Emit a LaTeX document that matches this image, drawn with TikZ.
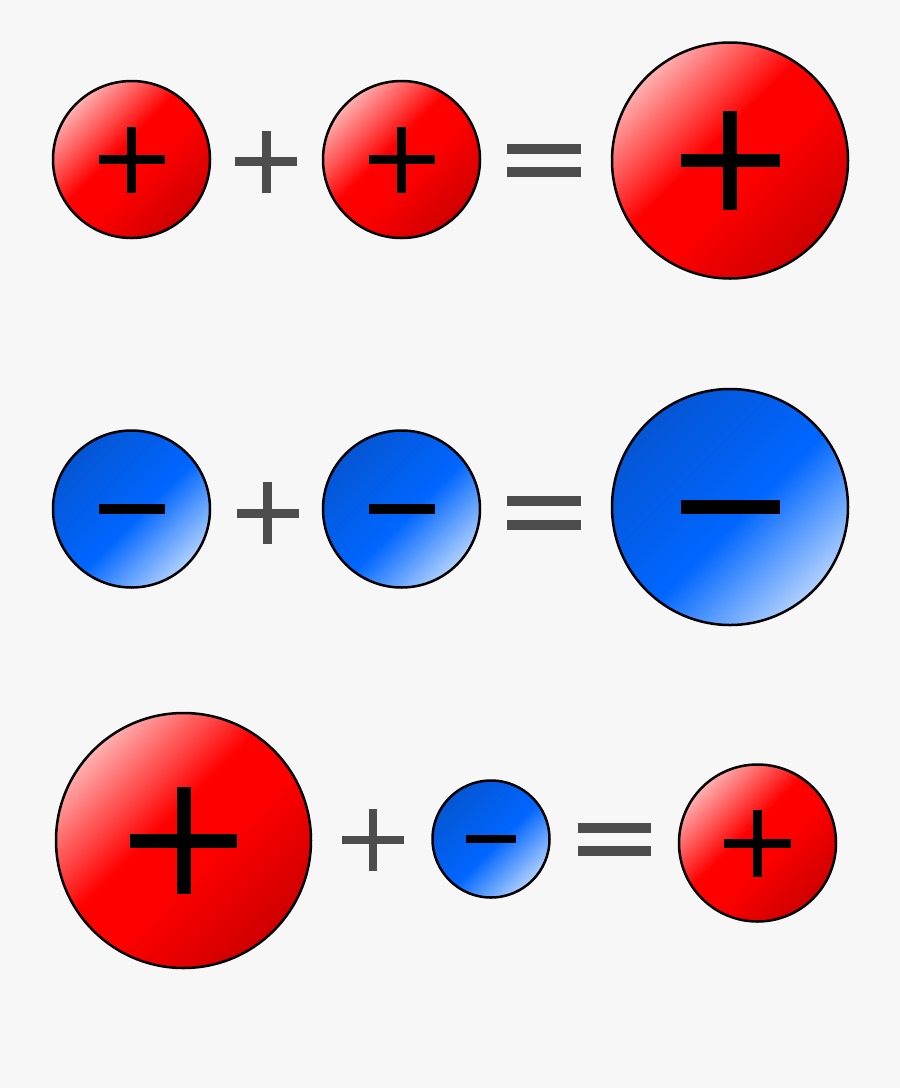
\documentclass[tikz,border=0pt]{standalone}
\usetikzlibrary{shadings,calc}
\definecolor{bgc}{HTML}{F7F7F7}
\definecolor{opgray}{HTML}{4D4D4D}
\definecolor{pinkc}{HTML}{FFB0B0}
\definecolor{redc}{HTML}{FF0000}
\definecolor{darkredc}{HTML}{CF0000}
\definecolor{lightbluec}{HTML}{B0D0FF}
\definecolor{bluec}{HTML}{0066FF}
\definecolor{darkbluec}{HTML}{0556D4}
\pgfdeclareverticalshading{redsh}{100bp}{color(0bp)=(darkredc); color(25bp)=(darkredc); color(45bp)=(redc); color(55bp)=(redc); color(75bp)=(pinkc); color(100bp)=(pinkc)}
\pgfdeclareverticalshading{bluesh}{100bp}{color(0bp)=(lightbluec); color(25bp)=(lightbluec); color(47bp)=(bluec); color(75bp)=(darkbluec); color(100bp)=(darkbluec)}
\tikzset{
  ball/.style={circle, draw=black, line width=2.5pt, inner sep=0pt, shade, shading angle=45},
  redball/.style={ball, shading=redsh},
  blueball/.style={ball, shading=bluesh},
}
% plus sign: center, half length, half thickness, color
\newcommand\plusmark[4]{%
  \fill[#4] ($(#1)+(-#2,-#3)$) rectangle ($(#1)+(#2,#3)$);
  \fill[#4] ($(#1)+(-#3,-#2)$) rectangle ($(#1)+(#3,#2)$);}
\newcommand\minusmark[4]{%
  \fill[#4] ($(#1)+(-#2,-#3)$) rectangle ($(#1)+(#2,#3)$);}
\newcommand\eqmark[5]{% center, half width, half thickness, half gap, color
  \fill[#5] ($(#1)+(-#2,-#4-#3)$) rectangle ($(#1)+(#2,-#4+#3)$);
  \fill[#5] ($(#1)+(-#2,#4-#3)$) rectangle ($(#1)+(#2,#4+#3)$);}
\begin{document}
\begin{tikzpicture}[x=1pt,y=-1pt]
\fill[bgc] (0,0) rectangle (900,1088);
\useasboundingbox (0,0) rectangle (900,1088);
% row 1
\node[redball, minimum size=157] (r1a) at (131.5,159.5) {};
\node[redball, minimum size=157] (r1b) at (401.5,159.5) {};
\node[redball, minimum size=236] (r1c) at (730,160.5) {};
\coordinate (p1) at (266,161.5);
\coordinate (e1) at (544,160);
\plusmark{r1a.center}{33}{4.3}{black}
\plusmark{r1b.center}{33}{4.3}{black}
\plusmark{r1c.center}{49.5}{6.8}{black}
\plusmark{p1}{31}{4.5}{opgray}
\eqmark{e1}{37}{5}{11.5}{opgray}
% row 2
\node[blueball, minimum size=157] (r2a) at (131.5,509) {};
\node[blueball, minimum size=157] (r2b) at (401.5,509) {};
\node[blueball, minimum size=236] (r2c) at (730,507) {};
\coordinate (p2) at (267.5,513);
\coordinate (e2) at (544,513);
\minusmark{r2a.center}{33}{5}{black}
\minusmark{r2b.center}{33}{5}{black}
\minusmark{r2c.center}{49.5}{7}{black}
\plusmark{p2}{31}{4.5}{opgray}
\eqmark{e2}{37}{5}{12}{opgray}
% row 3
\node[redball, minimum size=255] (r3a) at (183.5,840.5) {};
\node[blueball, minimum size=117] (r3b) at (491,839) {};
\node[redball, minimum size=157] (r3c) at (757.5,843) {};
\coordinate (p3) at (373,840);
\coordinate (e3) at (614.5,839.5);
\plusmark{r3a.center}{53.5}{7}{black}
\minusmark{r3b.center}{25}{4}{black}
\plusmark{r3c.center}{33.5}{4.5}{black}
\plusmark{p3}{31}{4.2}{opgray}
\eqmark{e3}{36.5}{5}{11.5}{opgray}
\end{tikzpicture}
\end{document}
